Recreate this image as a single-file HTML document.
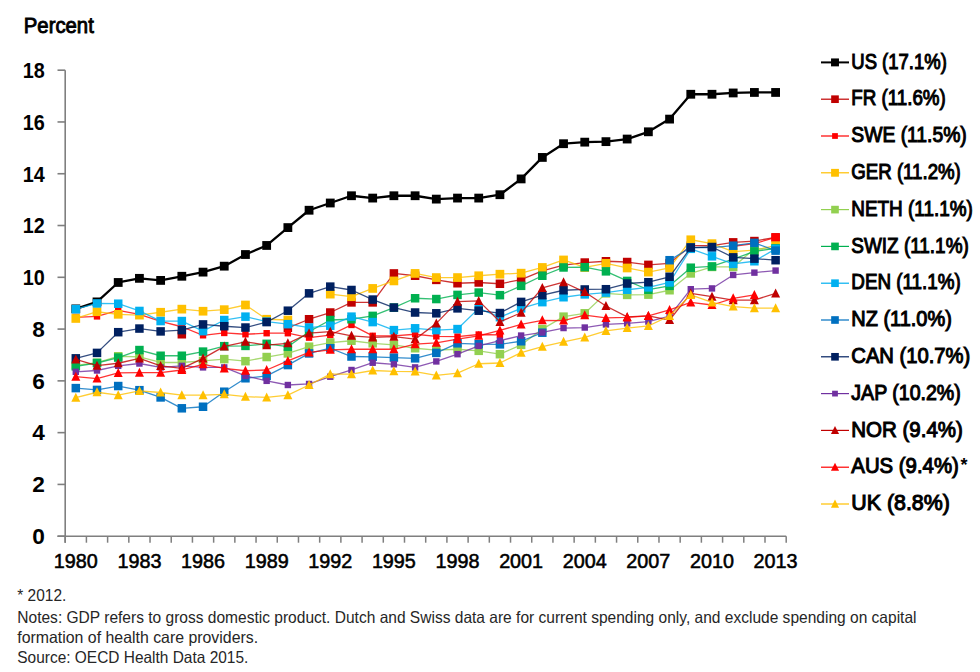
<!DOCTYPE html>
<html><head><meta charset="utf-8"><style>html,body{margin:0;padding:0;background:#fff;}svg{display:block;}text{font-family:"Liberation Sans", sans-serif;}</style></head><body>
<svg width="980" height="672" viewBox="0 0 980 672">
<rect width="980" height="672" fill="#fff"/>
<text x="23.8" y="33.3" font-size="21.5" font-weight="normal" stroke="#000" stroke-width="0.9" fill="#000" textLength="70.0" lengthAdjust="spacingAndGlyphs">Percent</text>
<line x1="65.2" y1="70.18" x2="65.2" y2="542.70" stroke="#7f7f7f" stroke-width="1.6"/>
<line x1="57.5" y1="536.2" x2="786.20" y2="536.2" stroke="#7f7f7f" stroke-width="1.6"/>
<line x1="57.5" y1="536.20" x2="65.2" y2="536.20" stroke="#7f7f7f" stroke-width="1.6"/>
<line x1="57.5" y1="484.42" x2="65.2" y2="484.42" stroke="#7f7f7f" stroke-width="1.6"/>
<line x1="57.5" y1="432.64" x2="65.2" y2="432.64" stroke="#7f7f7f" stroke-width="1.6"/>
<line x1="57.5" y1="380.86" x2="65.2" y2="380.86" stroke="#7f7f7f" stroke-width="1.6"/>
<line x1="57.5" y1="329.08" x2="65.2" y2="329.08" stroke="#7f7f7f" stroke-width="1.6"/>
<line x1="57.5" y1="277.30" x2="65.2" y2="277.30" stroke="#7f7f7f" stroke-width="1.6"/>
<line x1="57.5" y1="225.52" x2="65.2" y2="225.52" stroke="#7f7f7f" stroke-width="1.6"/>
<line x1="57.5" y1="173.74" x2="65.2" y2="173.74" stroke="#7f7f7f" stroke-width="1.6"/>
<line x1="57.5" y1="121.96" x2="65.2" y2="121.96" stroke="#7f7f7f" stroke-width="1.6"/>
<line x1="57.5" y1="70.18" x2="65.2" y2="70.18" stroke="#7f7f7f" stroke-width="1.6"/>
<line x1="65.20" y1="536.2" x2="65.20" y2="542.70" stroke="#7f7f7f" stroke-width="1.5"/>
<line x1="86.41" y1="536.2" x2="86.41" y2="542.70" stroke="#7f7f7f" stroke-width="1.5"/>
<line x1="107.61" y1="536.2" x2="107.61" y2="542.70" stroke="#7f7f7f" stroke-width="1.5"/>
<line x1="128.82" y1="536.2" x2="128.82" y2="542.70" stroke="#7f7f7f" stroke-width="1.5"/>
<line x1="150.02" y1="536.2" x2="150.02" y2="542.70" stroke="#7f7f7f" stroke-width="1.5"/>
<line x1="171.23" y1="536.2" x2="171.23" y2="542.70" stroke="#7f7f7f" stroke-width="1.5"/>
<line x1="192.44" y1="536.2" x2="192.44" y2="542.70" stroke="#7f7f7f" stroke-width="1.5"/>
<line x1="213.64" y1="536.2" x2="213.64" y2="542.70" stroke="#7f7f7f" stroke-width="1.5"/>
<line x1="234.85" y1="536.2" x2="234.85" y2="542.70" stroke="#7f7f7f" stroke-width="1.5"/>
<line x1="256.05" y1="536.2" x2="256.05" y2="542.70" stroke="#7f7f7f" stroke-width="1.5"/>
<line x1="277.26" y1="536.2" x2="277.26" y2="542.70" stroke="#7f7f7f" stroke-width="1.5"/>
<line x1="298.47" y1="536.2" x2="298.47" y2="542.70" stroke="#7f7f7f" stroke-width="1.5"/>
<line x1="319.67" y1="536.2" x2="319.67" y2="542.70" stroke="#7f7f7f" stroke-width="1.5"/>
<line x1="340.88" y1="536.2" x2="340.88" y2="542.70" stroke="#7f7f7f" stroke-width="1.5"/>
<line x1="362.08" y1="536.2" x2="362.08" y2="542.70" stroke="#7f7f7f" stroke-width="1.5"/>
<line x1="383.29" y1="536.2" x2="383.29" y2="542.70" stroke="#7f7f7f" stroke-width="1.5"/>
<line x1="404.50" y1="536.2" x2="404.50" y2="542.70" stroke="#7f7f7f" stroke-width="1.5"/>
<line x1="425.70" y1="536.2" x2="425.70" y2="542.70" stroke="#7f7f7f" stroke-width="1.5"/>
<line x1="446.91" y1="536.2" x2="446.91" y2="542.70" stroke="#7f7f7f" stroke-width="1.5"/>
<line x1="468.11" y1="536.2" x2="468.11" y2="542.70" stroke="#7f7f7f" stroke-width="1.5"/>
<line x1="489.32" y1="536.2" x2="489.32" y2="542.70" stroke="#7f7f7f" stroke-width="1.5"/>
<line x1="510.53" y1="536.2" x2="510.53" y2="542.70" stroke="#7f7f7f" stroke-width="1.5"/>
<line x1="531.73" y1="536.2" x2="531.73" y2="542.70" stroke="#7f7f7f" stroke-width="1.5"/>
<line x1="552.94" y1="536.2" x2="552.94" y2="542.70" stroke="#7f7f7f" stroke-width="1.5"/>
<line x1="574.14" y1="536.2" x2="574.14" y2="542.70" stroke="#7f7f7f" stroke-width="1.5"/>
<line x1="595.35" y1="536.2" x2="595.35" y2="542.70" stroke="#7f7f7f" stroke-width="1.5"/>
<line x1="616.56" y1="536.2" x2="616.56" y2="542.70" stroke="#7f7f7f" stroke-width="1.5"/>
<line x1="637.76" y1="536.2" x2="637.76" y2="542.70" stroke="#7f7f7f" stroke-width="1.5"/>
<line x1="658.97" y1="536.2" x2="658.97" y2="542.70" stroke="#7f7f7f" stroke-width="1.5"/>
<line x1="680.17" y1="536.2" x2="680.17" y2="542.70" stroke="#7f7f7f" stroke-width="1.5"/>
<line x1="701.38" y1="536.2" x2="701.38" y2="542.70" stroke="#7f7f7f" stroke-width="1.5"/>
<line x1="722.59" y1="536.2" x2="722.59" y2="542.70" stroke="#7f7f7f" stroke-width="1.5"/>
<line x1="743.79" y1="536.2" x2="743.79" y2="542.70" stroke="#7f7f7f" stroke-width="1.5"/>
<line x1="765.00" y1="536.2" x2="765.00" y2="542.70" stroke="#7f7f7f" stroke-width="1.5"/>
<line x1="786.20" y1="536.2" x2="786.20" y2="542.70" stroke="#7f7f7f" stroke-width="1.5"/>
<text x="44.8" y="544.00" font-size="21.5" font-weight="bold" text-anchor="end" fill="#000" textLength="12.6" lengthAdjust="spacingAndGlyphs">0</text>
<text x="44.8" y="492.22" font-size="21.5" font-weight="bold" text-anchor="end" fill="#000" textLength="12.6" lengthAdjust="spacingAndGlyphs">2</text>
<text x="44.8" y="440.44" font-size="21.5" font-weight="bold" text-anchor="end" fill="#000" textLength="12.6" lengthAdjust="spacingAndGlyphs">4</text>
<text x="44.8" y="388.66" font-size="21.5" font-weight="bold" text-anchor="end" fill="#000" textLength="12.6" lengthAdjust="spacingAndGlyphs">6</text>
<text x="44.8" y="336.88" font-size="21.5" font-weight="bold" text-anchor="end" fill="#000" textLength="12.6" lengthAdjust="spacingAndGlyphs">8</text>
<text x="44.8" y="285.10" font-size="21.5" font-weight="bold" text-anchor="end" fill="#000" textLength="22.0" lengthAdjust="spacingAndGlyphs">10</text>
<text x="44.8" y="233.32" font-size="21.5" font-weight="bold" text-anchor="end" fill="#000" textLength="22.0" lengthAdjust="spacingAndGlyphs">12</text>
<text x="44.8" y="181.54" font-size="21.5" font-weight="bold" text-anchor="end" fill="#000" textLength="22.0" lengthAdjust="spacingAndGlyphs">14</text>
<text x="44.8" y="129.76" font-size="21.5" font-weight="bold" text-anchor="end" fill="#000" textLength="22.0" lengthAdjust="spacingAndGlyphs">16</text>
<text x="44.8" y="77.98" font-size="21.5" font-weight="bold" text-anchor="end" fill="#000" textLength="22.0" lengthAdjust="spacingAndGlyphs">18</text>
<text x="75.80" y="567.7" font-size="20.5" font-weight="normal" stroke="#000" stroke-width="0.55" text-anchor="middle" fill="#000" textLength="44" lengthAdjust="spacingAndGlyphs">1980</text>
<text x="139.42" y="567.7" font-size="20.5" font-weight="normal" stroke="#000" stroke-width="0.55" text-anchor="middle" fill="#000" textLength="44" lengthAdjust="spacingAndGlyphs">1983</text>
<text x="203.04" y="567.7" font-size="20.5" font-weight="normal" stroke="#000" stroke-width="0.55" text-anchor="middle" fill="#000" textLength="44" lengthAdjust="spacingAndGlyphs">1986</text>
<text x="266.66" y="567.7" font-size="20.5" font-weight="normal" stroke="#000" stroke-width="0.55" text-anchor="middle" fill="#000" textLength="44" lengthAdjust="spacingAndGlyphs">1989</text>
<text x="330.27" y="567.7" font-size="20.5" font-weight="normal" stroke="#000" stroke-width="0.55" text-anchor="middle" fill="#000" textLength="44" lengthAdjust="spacingAndGlyphs">1992</text>
<text x="393.89" y="567.7" font-size="20.5" font-weight="normal" stroke="#000" stroke-width="0.55" text-anchor="middle" fill="#000" textLength="44" lengthAdjust="spacingAndGlyphs">1995</text>
<text x="457.51" y="567.7" font-size="20.5" font-weight="normal" stroke="#000" stroke-width="0.55" text-anchor="middle" fill="#000" textLength="44" lengthAdjust="spacingAndGlyphs">1998</text>
<text x="521.13" y="567.7" font-size="20.5" font-weight="normal" stroke="#000" stroke-width="0.55" text-anchor="middle" fill="#000" textLength="44" lengthAdjust="spacingAndGlyphs">2001</text>
<text x="584.75" y="567.7" font-size="20.5" font-weight="normal" stroke="#000" stroke-width="0.55" text-anchor="middle" fill="#000" textLength="44" lengthAdjust="spacingAndGlyphs">2004</text>
<text x="648.37" y="567.7" font-size="20.5" font-weight="normal" stroke="#000" stroke-width="0.55" text-anchor="middle" fill="#000" textLength="44" lengthAdjust="spacingAndGlyphs">2007</text>
<text x="711.98" y="567.7" font-size="20.5" font-weight="normal" stroke="#000" stroke-width="0.55" text-anchor="middle" fill="#000" textLength="44" lengthAdjust="spacingAndGlyphs">2010</text>
<text x="775.60" y="567.7" font-size="20.5" font-weight="normal" stroke="#000" stroke-width="0.55" text-anchor="middle" fill="#000" textLength="44" lengthAdjust="spacingAndGlyphs">2013</text>
<path d="M75.80 308.89 L97.01 301.90 L118.22 282.48 L139.42 278.34 L160.63 280.41 L181.83 276.26 L203.04 272.12 L224.25 266.17 L245.45 254.52 L266.66 245.46 L287.86 227.59 L309.07 210.24 L330.27 203.00 L351.48 195.75 L372.69 198.08 L393.89 195.75 L415.10 195.75 L436.31 199.11 L457.51 198.08 L478.72 198.08 L499.92 194.71 L521.13 178.92 L542.34 157.43 L563.54 143.71 L584.75 142.15 L605.95 141.64 L627.16 139.05 L648.37 131.80 L669.57 119.11 L690.78 94.26 L711.98 94.26 L733.19 92.96 L754.39 92.45 L775.60 92.45" fill="none" stroke="#000000" stroke-width="2.3" stroke-opacity="1.0" stroke-linejoin="round"/>
<rect x="71.40" y="304.49" width="8.80" height="8.80" fill="#000000"/>
<rect x="92.61" y="297.50" width="8.80" height="8.80" fill="#000000"/>
<rect x="113.81" y="278.08" width="8.80" height="8.80" fill="#000000"/>
<rect x="135.02" y="273.94" width="8.80" height="8.80" fill="#000000"/>
<rect x="156.23" y="276.01" width="8.80" height="8.80" fill="#000000"/>
<rect x="177.43" y="271.86" width="8.80" height="8.80" fill="#000000"/>
<rect x="198.64" y="267.72" width="8.80" height="8.80" fill="#000000"/>
<rect x="219.84" y="261.77" width="8.80" height="8.80" fill="#000000"/>
<rect x="241.05" y="250.12" width="8.80" height="8.80" fill="#000000"/>
<rect x="262.26" y="241.06" width="8.80" height="8.80" fill="#000000"/>
<rect x="283.46" y="223.19" width="8.80" height="8.80" fill="#000000"/>
<rect x="304.67" y="205.84" width="8.80" height="8.80" fill="#000000"/>
<rect x="325.88" y="198.60" width="8.80" height="8.80" fill="#000000"/>
<rect x="347.08" y="191.35" width="8.80" height="8.80" fill="#000000"/>
<rect x="368.29" y="193.68" width="8.80" height="8.80" fill="#000000"/>
<rect x="389.49" y="191.35" width="8.80" height="8.80" fill="#000000"/>
<rect x="410.70" y="191.35" width="8.80" height="8.80" fill="#000000"/>
<rect x="431.91" y="194.71" width="8.80" height="8.80" fill="#000000"/>
<rect x="453.11" y="193.68" width="8.80" height="8.80" fill="#000000"/>
<rect x="474.32" y="193.68" width="8.80" height="8.80" fill="#000000"/>
<rect x="495.52" y="190.31" width="8.80" height="8.80" fill="#000000"/>
<rect x="516.73" y="174.52" width="8.80" height="8.80" fill="#000000"/>
<rect x="537.94" y="153.03" width="8.80" height="8.80" fill="#000000"/>
<rect x="559.14" y="139.31" width="8.80" height="8.80" fill="#000000"/>
<rect x="580.35" y="137.75" width="8.80" height="8.80" fill="#000000"/>
<rect x="601.55" y="137.24" width="8.80" height="8.80" fill="#000000"/>
<rect x="622.76" y="134.65" width="8.80" height="8.80" fill="#000000"/>
<rect x="643.97" y="127.40" width="8.80" height="8.80" fill="#000000"/>
<rect x="665.17" y="114.71" width="8.80" height="8.80" fill="#000000"/>
<rect x="686.38" y="89.86" width="8.80" height="8.80" fill="#000000"/>
<rect x="707.58" y="89.86" width="8.80" height="8.80" fill="#000000"/>
<rect x="728.79" y="88.56" width="8.80" height="8.80" fill="#000000"/>
<rect x="750.00" y="88.05" width="8.80" height="8.80" fill="#000000"/>
<rect x="771.20" y="88.05" width="8.80" height="8.80" fill="#000000"/>
<path d="M287.86 327.79 L309.07 319.24 L330.27 312.51 L351.48 302.41 L372.69 302.41 L393.89 273.42 L415.10 275.75 L436.31 279.89 L457.51 283.25 L478.72 282.48 L499.92 283.77 L521.13 279.63 L542.34 270.83 L563.54 265.13 L584.75 262.54 L605.95 261.25 L627.16 262.02 L648.37 264.87 L669.57 263.32 L690.78 245.71 L711.98 245.71 L733.19 242.35 L754.39 241.05 L775.60 237.43" fill="none" stroke="#C00000" stroke-width="1.3" stroke-opacity="0.8" stroke-linejoin="round"/>
<rect x="177.58" y="330.01" width="8.50" height="8.50" fill="#C00000"/>
<rect x="283.61" y="323.54" width="8.50" height="8.50" fill="#C00000"/>
<rect x="304.82" y="314.99" width="8.50" height="8.50" fill="#C00000"/>
<rect x="326.02" y="308.26" width="8.50" height="8.50" fill="#C00000"/>
<rect x="347.23" y="298.16" width="8.50" height="8.50" fill="#C00000"/>
<rect x="368.44" y="298.16" width="8.50" height="8.50" fill="#C00000"/>
<rect x="389.64" y="269.17" width="8.50" height="8.50" fill="#C00000"/>
<rect x="410.85" y="271.50" width="8.50" height="8.50" fill="#C00000"/>
<rect x="432.06" y="275.64" width="8.50" height="8.50" fill="#C00000"/>
<rect x="453.26" y="279.00" width="8.50" height="8.50" fill="#C00000"/>
<rect x="474.47" y="278.23" width="8.50" height="8.50" fill="#C00000"/>
<rect x="495.67" y="279.52" width="8.50" height="8.50" fill="#C00000"/>
<rect x="516.88" y="275.38" width="8.50" height="8.50" fill="#C00000"/>
<rect x="538.09" y="266.58" width="8.50" height="8.50" fill="#C00000"/>
<rect x="559.29" y="260.88" width="8.50" height="8.50" fill="#C00000"/>
<rect x="580.50" y="258.29" width="8.50" height="8.50" fill="#C00000"/>
<rect x="601.70" y="257.00" width="8.50" height="8.50" fill="#C00000"/>
<rect x="622.91" y="257.77" width="8.50" height="8.50" fill="#C00000"/>
<rect x="644.12" y="260.62" width="8.50" height="8.50" fill="#C00000"/>
<rect x="665.32" y="259.07" width="8.50" height="8.50" fill="#C00000"/>
<rect x="686.53" y="241.46" width="8.50" height="8.50" fill="#C00000"/>
<rect x="707.73" y="241.46" width="8.50" height="8.50" fill="#C00000"/>
<rect x="728.94" y="238.10" width="8.50" height="8.50" fill="#C00000"/>
<rect x="750.14" y="236.80" width="8.50" height="8.50" fill="#C00000"/>
<rect x="771.35" y="233.18" width="8.50" height="8.50" fill="#C00000"/>
<path d="M75.80 317.43 L97.01 316.39 L118.22 310.44 L139.42 314.32 L160.63 321.31 L181.83 326.75 L203.04 335.29 L224.25 332.96 L245.45 334.26 L266.66 333.22 L287.86 333.22 L309.07 337.62 L330.27 335.03 L351.48 324.94 L372.69 335.81 L393.89 335.81 L415.10 334.26 L436.31 336.33 L457.51 336.59 L478.72 334.52 L499.92 334.78" fill="none" stroke="#FF0000" stroke-width="1.3" stroke-opacity="0.8" stroke-linejoin="round"/>
<path d="M733.19 246.23 L754.39 243.64 L775.60 237.43" fill="none" stroke="#FF0000" stroke-width="1.3" stroke-opacity="0.8" stroke-linejoin="round"/>
<rect x="72.60" y="314.23" width="6.40" height="6.40" fill="#FF0000"/>
<rect x="93.81" y="313.19" width="6.40" height="6.40" fill="#FF0000"/>
<rect x="115.02" y="307.24" width="6.40" height="6.40" fill="#FF0000"/>
<rect x="136.22" y="311.12" width="6.40" height="6.40" fill="#FF0000"/>
<rect x="157.43" y="318.11" width="6.40" height="6.40" fill="#FF0000"/>
<rect x="178.63" y="323.55" width="6.40" height="6.40" fill="#FF0000"/>
<rect x="199.84" y="332.09" width="6.40" height="6.40" fill="#FF0000"/>
<rect x="221.05" y="329.76" width="6.40" height="6.40" fill="#FF0000"/>
<rect x="242.25" y="331.06" width="6.40" height="6.40" fill="#FF0000"/>
<rect x="263.46" y="330.02" width="6.40" height="6.40" fill="#FF0000"/>
<rect x="284.66" y="330.02" width="6.40" height="6.40" fill="#FF0000"/>
<rect x="305.87" y="334.42" width="6.40" height="6.40" fill="#FF0000"/>
<rect x="327.07" y="331.83" width="6.40" height="6.40" fill="#FF0000"/>
<rect x="348.28" y="321.74" width="6.40" height="6.40" fill="#FF0000"/>
<rect x="369.49" y="332.61" width="6.40" height="6.40" fill="#FF0000"/>
<rect x="390.69" y="332.61" width="6.40" height="6.40" fill="#FF0000"/>
<rect x="411.90" y="331.06" width="6.40" height="6.40" fill="#FF0000"/>
<rect x="433.11" y="333.13" width="6.40" height="6.40" fill="#FF0000"/>
<rect x="454.31" y="333.39" width="6.40" height="6.40" fill="#FF0000"/>
<rect x="475.52" y="331.32" width="6.40" height="6.40" fill="#FF0000"/>
<rect x="496.72" y="331.58" width="6.40" height="6.40" fill="#FF0000"/>
<rect x="729.99" y="243.03" width="6.40" height="6.40" fill="#FF0000"/>
<rect x="751.19" y="240.44" width="6.40" height="6.40" fill="#FF0000"/>
<rect x="771.40" y="233.23" width="8.40" height="8.40" fill="#FF0000"/>
<path d="M75.80 318.47 L97.01 311.73 L118.22 314.32 L139.42 315.10 L160.63 312.25 L181.83 309.14 L203.04 311.22 L224.25 309.66 L245.45 305.00 L266.66 319.24 L287.86 320.02" fill="none" stroke="#FFC000" stroke-width="1.3" stroke-opacity="0.8" stroke-linejoin="round"/>
<path d="M330.27 294.13 L351.48 296.72 L372.69 288.43 L393.89 280.92 L415.10 273.42 L436.31 277.56 L457.51 277.56 L478.72 275.75 L499.92 274.19 L521.13 273.16 L542.34 267.46 L563.54 259.95 L584.75 267.46 L605.95 263.32 L627.16 267.98 L648.37 272.12 L669.57 267.98 L690.78 239.76 L711.98 243.64 L733.19 251.67 L754.39 250.12 L775.60 245.71" fill="none" stroke="#FFC000" stroke-width="1.3" stroke-opacity="0.8" stroke-linejoin="round"/>
<rect x="71.45" y="314.12" width="8.70" height="8.70" fill="#FFC000"/>
<rect x="92.66" y="307.38" width="8.70" height="8.70" fill="#FFC000"/>
<rect x="113.87" y="309.97" width="8.70" height="8.70" fill="#FFC000"/>
<rect x="135.07" y="310.75" width="8.70" height="8.70" fill="#FFC000"/>
<rect x="156.28" y="307.90" width="8.70" height="8.70" fill="#FFC000"/>
<rect x="177.48" y="304.79" width="8.70" height="8.70" fill="#FFC000"/>
<rect x="198.69" y="306.87" width="8.70" height="8.70" fill="#FFC000"/>
<rect x="219.90" y="305.31" width="8.70" height="8.70" fill="#FFC000"/>
<rect x="241.10" y="300.65" width="8.70" height="8.70" fill="#FFC000"/>
<rect x="262.31" y="314.89" width="8.70" height="8.70" fill="#FFC000"/>
<rect x="283.51" y="315.67" width="8.70" height="8.70" fill="#FFC000"/>
<rect x="325.92" y="289.78" width="8.70" height="8.70" fill="#FFC000"/>
<rect x="347.13" y="292.37" width="8.70" height="8.70" fill="#FFC000"/>
<rect x="368.34" y="284.08" width="8.70" height="8.70" fill="#FFC000"/>
<rect x="389.54" y="276.57" width="8.70" height="8.70" fill="#FFC000"/>
<rect x="410.75" y="269.07" width="8.70" height="8.70" fill="#FFC000"/>
<rect x="431.95" y="273.21" width="8.70" height="8.70" fill="#FFC000"/>
<rect x="453.16" y="273.21" width="8.70" height="8.70" fill="#FFC000"/>
<rect x="474.37" y="271.40" width="8.70" height="8.70" fill="#FFC000"/>
<rect x="495.57" y="269.84" width="8.70" height="8.70" fill="#FFC000"/>
<rect x="516.78" y="268.81" width="8.70" height="8.70" fill="#FFC000"/>
<rect x="537.99" y="263.11" width="8.70" height="8.70" fill="#FFC000"/>
<rect x="559.19" y="255.60" width="8.70" height="8.70" fill="#FFC000"/>
<rect x="580.40" y="263.11" width="8.70" height="8.70" fill="#FFC000"/>
<rect x="601.60" y="258.97" width="8.70" height="8.70" fill="#FFC000"/>
<rect x="622.81" y="263.63" width="8.70" height="8.70" fill="#FFC000"/>
<rect x="644.01" y="267.77" width="8.70" height="8.70" fill="#FFC000"/>
<rect x="665.22" y="263.63" width="8.70" height="8.70" fill="#FFC000"/>
<rect x="686.43" y="235.41" width="8.70" height="8.70" fill="#FFC000"/>
<rect x="707.63" y="239.29" width="8.70" height="8.70" fill="#FFC000"/>
<rect x="728.84" y="247.32" width="8.70" height="8.70" fill="#FFC000"/>
<rect x="750.04" y="245.77" width="8.70" height="8.70" fill="#FFC000"/>
<rect x="771.25" y="241.36" width="8.70" height="8.70" fill="#FFC000"/>
<path d="M75.80 365.33 L97.01 362.74 L118.22 356.26 L139.42 356.78 L160.63 362.48 L181.83 362.48 L203.04 360.92 L224.25 359.11 L245.45 361.18 L266.66 357.04 L287.86 353.42 L309.07 346.69 L330.27 342.54 L351.48 340.73 L372.69 343.32 L393.89 344.87 L415.10 348.24 L436.31 350.05 L457.51 349.27 L478.72 350.83 L499.92 354.19 L521.13 344.87 L542.34 329.08 L563.54 316.65 L584.75 313.29 L605.95 293.35 L627.16 294.91 L648.37 294.65 L669.57 290.25 L690.78 273.42 L711.98 266.94 L733.19 266.94 L754.39 248.82 L775.60 248.82" fill="none" stroke="#92D050" stroke-width="1.3" stroke-opacity="0.8" stroke-linejoin="round"/>
<rect x="71.55" y="361.08" width="8.50" height="8.50" fill="#92D050"/>
<rect x="92.76" y="358.49" width="8.50" height="8.50" fill="#92D050"/>
<rect x="113.97" y="352.01" width="8.50" height="8.50" fill="#92D050"/>
<rect x="135.17" y="352.53" width="8.50" height="8.50" fill="#92D050"/>
<rect x="156.38" y="358.23" width="8.50" height="8.50" fill="#92D050"/>
<rect x="177.58" y="358.23" width="8.50" height="8.50" fill="#92D050"/>
<rect x="198.79" y="356.67" width="8.50" height="8.50" fill="#92D050"/>
<rect x="220.00" y="354.86" width="8.50" height="8.50" fill="#92D050"/>
<rect x="241.20" y="356.93" width="8.50" height="8.50" fill="#92D050"/>
<rect x="262.41" y="352.79" width="8.50" height="8.50" fill="#92D050"/>
<rect x="283.61" y="349.17" width="8.50" height="8.50" fill="#92D050"/>
<rect x="304.82" y="342.44" width="8.50" height="8.50" fill="#92D050"/>
<rect x="326.02" y="338.29" width="8.50" height="8.50" fill="#92D050"/>
<rect x="347.23" y="336.48" width="8.50" height="8.50" fill="#92D050"/>
<rect x="368.44" y="339.07" width="8.50" height="8.50" fill="#92D050"/>
<rect x="389.64" y="340.62" width="8.50" height="8.50" fill="#92D050"/>
<rect x="410.85" y="343.99" width="8.50" height="8.50" fill="#92D050"/>
<rect x="432.06" y="345.80" width="8.50" height="8.50" fill="#92D050"/>
<rect x="453.26" y="345.02" width="8.50" height="8.50" fill="#92D050"/>
<rect x="474.47" y="346.58" width="8.50" height="8.50" fill="#92D050"/>
<rect x="495.67" y="349.94" width="8.50" height="8.50" fill="#92D050"/>
<rect x="516.88" y="340.62" width="8.50" height="8.50" fill="#92D050"/>
<rect x="538.09" y="324.83" width="8.50" height="8.50" fill="#92D050"/>
<rect x="559.29" y="312.40" width="8.50" height="8.50" fill="#92D050"/>
<rect x="580.50" y="309.04" width="8.50" height="8.50" fill="#92D050"/>
<rect x="601.70" y="289.10" width="8.50" height="8.50" fill="#92D050"/>
<rect x="622.91" y="290.66" width="8.50" height="8.50" fill="#92D050"/>
<rect x="644.12" y="290.40" width="8.50" height="8.50" fill="#92D050"/>
<rect x="665.32" y="286.00" width="8.50" height="8.50" fill="#92D050"/>
<rect x="686.53" y="269.17" width="8.50" height="8.50" fill="#92D050"/>
<rect x="707.73" y="262.69" width="8.50" height="8.50" fill="#92D050"/>
<rect x="728.94" y="262.69" width="8.50" height="8.50" fill="#92D050"/>
<rect x="750.14" y="244.57" width="8.50" height="8.50" fill="#92D050"/>
<rect x="771.35" y="244.57" width="8.50" height="8.50" fill="#92D050"/>
<path d="M75.80 366.36 L97.01 363.00 L118.22 357.56 L139.42 350.05 L160.63 355.75 L181.83 355.75 L203.04 351.60 L224.25 346.17 L245.45 345.91 L266.66 343.84 L287.86 346.69 L309.07 331.67 L330.27 320.02 L351.48 319.24 L372.69 315.88 L393.89 307.59 L415.10 298.27 L436.31 299.05 L457.51 294.91 L478.72 292.58 L499.92 295.16 L521.13 285.84 L542.34 275.75 L563.54 267.46 L584.75 267.20 L605.95 271.35 L627.16 280.92 L648.37 289.73 L669.57 285.84 L690.78 267.72 L711.98 266.43 L733.19 259.18 L754.39 251.41 L775.60 248.30" fill="none" stroke="#00B050" stroke-width="1.3" stroke-opacity="0.8" stroke-linejoin="round"/>
<rect x="71.55" y="362.11" width="8.50" height="8.50" fill="#00B050"/>
<rect x="92.76" y="358.75" width="8.50" height="8.50" fill="#00B050"/>
<rect x="113.97" y="353.31" width="8.50" height="8.50" fill="#00B050"/>
<rect x="135.17" y="345.80" width="8.50" height="8.50" fill="#00B050"/>
<rect x="156.38" y="351.50" width="8.50" height="8.50" fill="#00B050"/>
<rect x="177.58" y="351.50" width="8.50" height="8.50" fill="#00B050"/>
<rect x="198.79" y="347.35" width="8.50" height="8.50" fill="#00B050"/>
<rect x="220.00" y="341.92" width="8.50" height="8.50" fill="#00B050"/>
<rect x="241.20" y="341.66" width="8.50" height="8.50" fill="#00B050"/>
<rect x="262.41" y="339.59" width="8.50" height="8.50" fill="#00B050"/>
<rect x="283.61" y="342.44" width="8.50" height="8.50" fill="#00B050"/>
<rect x="304.82" y="327.42" width="8.50" height="8.50" fill="#00B050"/>
<rect x="326.02" y="315.77" width="8.50" height="8.50" fill="#00B050"/>
<rect x="347.23" y="314.99" width="8.50" height="8.50" fill="#00B050"/>
<rect x="368.44" y="311.63" width="8.50" height="8.50" fill="#00B050"/>
<rect x="389.64" y="303.34" width="8.50" height="8.50" fill="#00B050"/>
<rect x="410.85" y="294.02" width="8.50" height="8.50" fill="#00B050"/>
<rect x="432.06" y="294.80" width="8.50" height="8.50" fill="#00B050"/>
<rect x="453.26" y="290.66" width="8.50" height="8.50" fill="#00B050"/>
<rect x="474.47" y="288.33" width="8.50" height="8.50" fill="#00B050"/>
<rect x="495.67" y="290.91" width="8.50" height="8.50" fill="#00B050"/>
<rect x="516.88" y="281.59" width="8.50" height="8.50" fill="#00B050"/>
<rect x="538.09" y="271.50" width="8.50" height="8.50" fill="#00B050"/>
<rect x="559.29" y="263.21" width="8.50" height="8.50" fill="#00B050"/>
<rect x="580.50" y="262.95" width="8.50" height="8.50" fill="#00B050"/>
<rect x="601.70" y="267.10" width="8.50" height="8.50" fill="#00B050"/>
<rect x="622.91" y="276.67" width="8.50" height="8.50" fill="#00B050"/>
<rect x="644.12" y="285.48" width="8.50" height="8.50" fill="#00B050"/>
<rect x="665.32" y="281.59" width="8.50" height="8.50" fill="#00B050"/>
<rect x="686.53" y="263.47" width="8.50" height="8.50" fill="#00B050"/>
<rect x="707.73" y="262.18" width="8.50" height="8.50" fill="#00B050"/>
<rect x="728.94" y="254.93" width="8.50" height="8.50" fill="#00B050"/>
<rect x="750.14" y="247.16" width="8.50" height="8.50" fill="#00B050"/>
<rect x="771.35" y="244.05" width="8.50" height="8.50" fill="#00B050"/>
<path d="M75.80 309.14 L97.01 303.45 L118.22 303.71 L139.42 310.96 L160.63 321.05 L181.83 321.05 L203.04 331.15 L224.25 320.02 L245.45 316.65 L266.66 321.57 L287.86 324.16 L309.07 327.53 L330.27 325.71 L351.48 316.65 L372.69 322.09 L393.89 330.12 L415.10 328.30 L436.31 330.12 L457.51 329.08 L478.72 308.37 L499.92 317.17 L521.13 308.37 L542.34 302.15 L563.54 297.24 L584.75 294.39 L605.95 292.58 L627.16 289.73 L648.37 287.40 L669.57 282.48 L690.78 248.82 L711.98 256.33 L733.19 263.84 L754.39 261.25 L775.60 248.82" fill="none" stroke="#00B0F0" stroke-width="1.3" stroke-opacity="0.8" stroke-linejoin="round"/>
<rect x="71.55" y="304.89" width="8.50" height="8.50" fill="#00B0F0"/>
<rect x="92.76" y="299.20" width="8.50" height="8.50" fill="#00B0F0"/>
<rect x="113.97" y="299.46" width="8.50" height="8.50" fill="#00B0F0"/>
<rect x="135.17" y="306.71" width="8.50" height="8.50" fill="#00B0F0"/>
<rect x="156.38" y="316.80" width="8.50" height="8.50" fill="#00B0F0"/>
<rect x="177.58" y="316.80" width="8.50" height="8.50" fill="#00B0F0"/>
<rect x="198.79" y="326.90" width="8.50" height="8.50" fill="#00B0F0"/>
<rect x="220.00" y="315.77" width="8.50" height="8.50" fill="#00B0F0"/>
<rect x="241.20" y="312.40" width="8.50" height="8.50" fill="#00B0F0"/>
<rect x="262.41" y="317.32" width="8.50" height="8.50" fill="#00B0F0"/>
<rect x="283.61" y="319.91" width="8.50" height="8.50" fill="#00B0F0"/>
<rect x="304.82" y="323.28" width="8.50" height="8.50" fill="#00B0F0"/>
<rect x="326.02" y="321.46" width="8.50" height="8.50" fill="#00B0F0"/>
<rect x="347.23" y="312.40" width="8.50" height="8.50" fill="#00B0F0"/>
<rect x="368.44" y="317.84" width="8.50" height="8.50" fill="#00B0F0"/>
<rect x="389.64" y="325.87" width="8.50" height="8.50" fill="#00B0F0"/>
<rect x="410.85" y="324.05" width="8.50" height="8.50" fill="#00B0F0"/>
<rect x="432.06" y="325.87" width="8.50" height="8.50" fill="#00B0F0"/>
<rect x="453.26" y="324.83" width="8.50" height="8.50" fill="#00B0F0"/>
<rect x="474.47" y="304.12" width="8.50" height="8.50" fill="#00B0F0"/>
<rect x="495.67" y="312.92" width="8.50" height="8.50" fill="#00B0F0"/>
<rect x="516.88" y="304.12" width="8.50" height="8.50" fill="#00B0F0"/>
<rect x="538.09" y="297.90" width="8.50" height="8.50" fill="#00B0F0"/>
<rect x="559.29" y="292.99" width="8.50" height="8.50" fill="#00B0F0"/>
<rect x="580.50" y="290.14" width="8.50" height="8.50" fill="#00B0F0"/>
<rect x="601.70" y="288.33" width="8.50" height="8.50" fill="#00B0F0"/>
<rect x="622.91" y="285.48" width="8.50" height="8.50" fill="#00B0F0"/>
<rect x="644.12" y="283.15" width="8.50" height="8.50" fill="#00B0F0"/>
<rect x="665.32" y="278.23" width="8.50" height="8.50" fill="#00B0F0"/>
<rect x="686.53" y="244.57" width="8.50" height="8.50" fill="#00B0F0"/>
<rect x="707.73" y="252.08" width="8.50" height="8.50" fill="#00B0F0"/>
<rect x="728.94" y="259.59" width="8.50" height="8.50" fill="#00B0F0"/>
<rect x="750.14" y="257.00" width="8.50" height="8.50" fill="#00B0F0"/>
<rect x="771.35" y="244.57" width="8.50" height="8.50" fill="#00B0F0"/>
<path d="M75.80 388.11 L97.01 389.92 L118.22 386.04 L139.42 390.18 L160.63 397.43 L181.83 408.30 L203.04 406.75 L224.25 391.73 L245.45 378.27 L266.66 375.94 L287.86 365.07 L309.07 353.42 L330.27 348.24 L351.48 356.52 L372.69 356.78 L393.89 357.56 L415.10 358.34 L436.31 352.90 L457.51 343.32 L478.72 344.10 L499.92 344.36 L521.13 341.25 L542.34 332.70" fill="none" stroke="#0070C0" stroke-width="1.3" stroke-opacity="0.8" stroke-linejoin="round"/>
<path d="M669.57 260.21 L690.78 247.53 L711.98 247.53 L733.19 245.71 L754.39 242.87 L775.60 250.63" fill="none" stroke="#0070C0" stroke-width="1.3" stroke-opacity="0.8" stroke-linejoin="round"/>
<rect x="71.55" y="383.86" width="8.50" height="8.50" fill="#0070C0"/>
<rect x="92.76" y="385.67" width="8.50" height="8.50" fill="#0070C0"/>
<rect x="113.97" y="381.79" width="8.50" height="8.50" fill="#0070C0"/>
<rect x="135.17" y="385.93" width="8.50" height="8.50" fill="#0070C0"/>
<rect x="156.38" y="393.18" width="8.50" height="8.50" fill="#0070C0"/>
<rect x="177.58" y="404.05" width="8.50" height="8.50" fill="#0070C0"/>
<rect x="198.79" y="402.50" width="8.50" height="8.50" fill="#0070C0"/>
<rect x="220.00" y="387.48" width="8.50" height="8.50" fill="#0070C0"/>
<rect x="241.20" y="374.02" width="8.50" height="8.50" fill="#0070C0"/>
<rect x="262.41" y="371.69" width="8.50" height="8.50" fill="#0070C0"/>
<rect x="283.61" y="360.82" width="8.50" height="8.50" fill="#0070C0"/>
<rect x="304.82" y="349.17" width="8.50" height="8.50" fill="#0070C0"/>
<rect x="326.02" y="343.99" width="8.50" height="8.50" fill="#0070C0"/>
<rect x="347.23" y="352.27" width="8.50" height="8.50" fill="#0070C0"/>
<rect x="368.44" y="352.53" width="8.50" height="8.50" fill="#0070C0"/>
<rect x="389.64" y="353.31" width="8.50" height="8.50" fill="#0070C0"/>
<rect x="410.85" y="354.09" width="8.50" height="8.50" fill="#0070C0"/>
<rect x="432.06" y="348.65" width="8.50" height="8.50" fill="#0070C0"/>
<rect x="453.26" y="339.07" width="8.50" height="8.50" fill="#0070C0"/>
<rect x="474.47" y="339.85" width="8.50" height="8.50" fill="#0070C0"/>
<rect x="495.67" y="340.11" width="8.50" height="8.50" fill="#0070C0"/>
<rect x="516.88" y="337.00" width="8.50" height="8.50" fill="#0070C0"/>
<rect x="538.09" y="328.45" width="8.50" height="8.50" fill="#0070C0"/>
<rect x="665.32" y="255.96" width="8.50" height="8.50" fill="#0070C0"/>
<rect x="686.53" y="243.28" width="8.50" height="8.50" fill="#0070C0"/>
<rect x="707.73" y="243.28" width="8.50" height="8.50" fill="#0070C0"/>
<rect x="728.94" y="241.46" width="8.50" height="8.50" fill="#0070C0"/>
<rect x="750.14" y="238.62" width="8.50" height="8.50" fill="#0070C0"/>
<rect x="771.35" y="246.38" width="8.50" height="8.50" fill="#0070C0"/>
<path d="M75.80 358.34 L97.01 352.90 L118.22 332.19 L139.42 328.56 L160.63 331.41 L181.83 330.12 L203.04 324.42 L224.25 326.23 L245.45 327.53 L266.66 322.09 L287.86 310.70 L309.07 293.35 L330.27 286.62 L351.48 289.99 L372.69 299.57 L393.89 307.59 L415.10 312.51 L436.31 313.29 L457.51 308.37 L478.72 310.70 L499.92 313.03 L521.13 301.90 L542.34 295.16 L563.54 290.25 L584.75 289.47 L605.95 289.21 L627.16 283.51 L648.37 282.22 L669.57 276.78 L690.78 247.53 L711.98 247.01 L733.19 257.36 L754.39 258.66 L775.60 260.21" fill="none" stroke="#002060" stroke-width="1.3" stroke-opacity="0.8" stroke-linejoin="round"/>
<rect x="71.55" y="354.09" width="8.50" height="8.50" fill="#002060"/>
<rect x="92.76" y="348.65" width="8.50" height="8.50" fill="#002060"/>
<rect x="113.97" y="327.94" width="8.50" height="8.50" fill="#002060"/>
<rect x="135.17" y="324.31" width="8.50" height="8.50" fill="#002060"/>
<rect x="156.38" y="327.16" width="8.50" height="8.50" fill="#002060"/>
<rect x="177.58" y="325.87" width="8.50" height="8.50" fill="#002060"/>
<rect x="198.79" y="320.17" width="8.50" height="8.50" fill="#002060"/>
<rect x="220.00" y="321.98" width="8.50" height="8.50" fill="#002060"/>
<rect x="241.20" y="323.28" width="8.50" height="8.50" fill="#002060"/>
<rect x="262.41" y="317.84" width="8.50" height="8.50" fill="#002060"/>
<rect x="283.61" y="306.45" width="8.50" height="8.50" fill="#002060"/>
<rect x="304.82" y="289.10" width="8.50" height="8.50" fill="#002060"/>
<rect x="326.02" y="282.37" width="8.50" height="8.50" fill="#002060"/>
<rect x="347.23" y="285.74" width="8.50" height="8.50" fill="#002060"/>
<rect x="368.44" y="295.32" width="8.50" height="8.50" fill="#002060"/>
<rect x="389.64" y="303.34" width="8.50" height="8.50" fill="#002060"/>
<rect x="410.85" y="308.26" width="8.50" height="8.50" fill="#002060"/>
<rect x="432.06" y="309.04" width="8.50" height="8.50" fill="#002060"/>
<rect x="453.26" y="304.12" width="8.50" height="8.50" fill="#002060"/>
<rect x="474.47" y="306.45" width="8.50" height="8.50" fill="#002060"/>
<rect x="495.67" y="308.78" width="8.50" height="8.50" fill="#002060"/>
<rect x="516.88" y="297.65" width="8.50" height="8.50" fill="#002060"/>
<rect x="538.09" y="290.91" width="8.50" height="8.50" fill="#002060"/>
<rect x="559.29" y="286.00" width="8.50" height="8.50" fill="#002060"/>
<rect x="580.50" y="285.22" width="8.50" height="8.50" fill="#002060"/>
<rect x="601.70" y="284.96" width="8.50" height="8.50" fill="#002060"/>
<rect x="622.91" y="279.26" width="8.50" height="8.50" fill="#002060"/>
<rect x="644.12" y="277.97" width="8.50" height="8.50" fill="#002060"/>
<rect x="665.32" y="272.53" width="8.50" height="8.50" fill="#002060"/>
<rect x="686.53" y="243.28" width="8.50" height="8.50" fill="#002060"/>
<rect x="707.73" y="242.76" width="8.50" height="8.50" fill="#002060"/>
<rect x="728.94" y="253.11" width="8.50" height="8.50" fill="#002060"/>
<rect x="750.14" y="254.41" width="8.50" height="8.50" fill="#002060"/>
<rect x="771.35" y="255.96" width="8.50" height="8.50" fill="#002060"/>
<path d="M75.80 371.80 L97.01 370.50 L118.22 365.84 L139.42 363.51 L160.63 367.40 L181.83 365.84 L203.04 367.40 L224.25 367.40 L245.45 375.94 L266.66 380.86 L287.86 385.00 L309.07 383.97 L330.27 376.72 L351.48 369.99 L372.69 362.74 L393.89 364.29 L415.10 367.40 L436.31 361.44 L457.51 354.19 L478.72 345.91 L499.92 340.73 L521.13 335.55 L542.34 332.45 L563.54 328.04 L584.75 327.53 L605.95 324.42 L627.16 323.38 L648.37 321.57 L669.57 316.14 L690.78 289.21 L711.98 288.43 L733.19 274.97 L754.39 272.64 L775.60 270.57" fill="none" stroke="#7030A0" stroke-width="1.3" stroke-opacity="0.8" stroke-linejoin="round"/>
<rect x="72.60" y="368.60" width="6.40" height="6.40" fill="#7030A0"/>
<rect x="93.81" y="367.30" width="6.40" height="6.40" fill="#7030A0"/>
<rect x="115.02" y="362.64" width="6.40" height="6.40" fill="#7030A0"/>
<rect x="136.22" y="360.31" width="6.40" height="6.40" fill="#7030A0"/>
<rect x="157.43" y="364.20" width="6.40" height="6.40" fill="#7030A0"/>
<rect x="178.63" y="362.64" width="6.40" height="6.40" fill="#7030A0"/>
<rect x="199.84" y="364.20" width="6.40" height="6.40" fill="#7030A0"/>
<rect x="221.05" y="364.20" width="6.40" height="6.40" fill="#7030A0"/>
<rect x="242.25" y="372.74" width="6.40" height="6.40" fill="#7030A0"/>
<rect x="263.46" y="377.66" width="6.40" height="6.40" fill="#7030A0"/>
<rect x="284.66" y="381.80" width="6.40" height="6.40" fill="#7030A0"/>
<rect x="305.87" y="380.77" width="6.40" height="6.40" fill="#7030A0"/>
<rect x="327.07" y="373.52" width="6.40" height="6.40" fill="#7030A0"/>
<rect x="348.28" y="366.79" width="6.40" height="6.40" fill="#7030A0"/>
<rect x="369.49" y="359.54" width="6.40" height="6.40" fill="#7030A0"/>
<rect x="390.69" y="361.09" width="6.40" height="6.40" fill="#7030A0"/>
<rect x="411.90" y="364.20" width="6.40" height="6.40" fill="#7030A0"/>
<rect x="433.11" y="358.24" width="6.40" height="6.40" fill="#7030A0"/>
<rect x="454.31" y="350.99" width="6.40" height="6.40" fill="#7030A0"/>
<rect x="475.52" y="342.71" width="6.40" height="6.40" fill="#7030A0"/>
<rect x="496.72" y="337.53" width="6.40" height="6.40" fill="#7030A0"/>
<rect x="517.93" y="332.35" width="6.40" height="6.40" fill="#7030A0"/>
<rect x="539.13" y="329.25" width="6.40" height="6.40" fill="#7030A0"/>
<rect x="560.34" y="324.84" width="6.40" height="6.40" fill="#7030A0"/>
<rect x="581.55" y="324.33" width="6.40" height="6.40" fill="#7030A0"/>
<rect x="602.75" y="321.22" width="6.40" height="6.40" fill="#7030A0"/>
<rect x="623.96" y="320.18" width="6.40" height="6.40" fill="#7030A0"/>
<rect x="645.16" y="318.37" width="6.40" height="6.40" fill="#7030A0"/>
<rect x="666.37" y="312.94" width="6.40" height="6.40" fill="#7030A0"/>
<rect x="687.58" y="286.01" width="6.40" height="6.40" fill="#7030A0"/>
<rect x="708.78" y="285.23" width="6.40" height="6.40" fill="#7030A0"/>
<rect x="729.99" y="271.77" width="6.40" height="6.40" fill="#7030A0"/>
<rect x="751.19" y="269.44" width="6.40" height="6.40" fill="#7030A0"/>
<rect x="772.40" y="267.37" width="6.40" height="6.40" fill="#7030A0"/>
<path d="M75.80 359.37 L97.01 365.58 L118.22 363.25 L139.42 358.34 L160.63 365.84 L181.83 368.43 L203.04 358.34 L224.25 346.43 L245.45 341.77 L266.66 345.13 L287.86 343.32 L309.07 333.22 L330.27 331.67 L351.48 335.81 L372.69 337.36 L393.89 336.59 L415.10 339.18 L436.31 323.38 L457.51 301.64 L478.72 300.86 L499.92 321.83 L521.13 312.77 L542.34 287.91 L563.54 282.22 L584.75 292.06 L605.95 306.04 L627.16 316.91 L648.37 315.88 L669.57 320.02 L690.78 293.35 L711.98 296.72 L733.19 300.08 L754.39 300.08 L775.60 293.35" fill="none" stroke="#C00000" stroke-width="1.3" stroke-opacity="0.8" stroke-linejoin="round"/>
<path d="M75.80 354.42 L80.30 363.42 L71.30 363.42 Z" fill="#C00000"/>
<path d="M97.01 360.63 L101.51 369.63 L92.51 369.63 Z" fill="#C00000"/>
<path d="M118.22 358.30 L122.72 367.30 L113.72 367.30 Z" fill="#C00000"/>
<path d="M139.42 353.39 L143.92 362.39 L134.92 362.39 Z" fill="#C00000"/>
<path d="M160.63 360.89 L165.13 369.89 L156.13 369.89 Z" fill="#C00000"/>
<path d="M181.83 363.48 L186.33 372.48 L177.33 372.48 Z" fill="#C00000"/>
<path d="M203.04 353.39 L207.54 362.39 L198.54 362.39 Z" fill="#C00000"/>
<path d="M224.25 341.48 L228.75 350.48 L219.75 350.48 Z" fill="#C00000"/>
<path d="M245.45 336.82 L249.95 345.82 L240.95 345.82 Z" fill="#C00000"/>
<path d="M266.66 340.18 L271.16 349.18 L262.16 349.18 Z" fill="#C00000"/>
<path d="M287.86 338.37 L292.36 347.37 L283.36 347.37 Z" fill="#C00000"/>
<path d="M309.07 328.27 L313.57 337.27 L304.57 337.27 Z" fill="#C00000"/>
<path d="M330.27 326.72 L334.77 335.72 L325.77 335.72 Z" fill="#C00000"/>
<path d="M351.48 330.86 L355.98 339.86 L346.98 339.86 Z" fill="#C00000"/>
<path d="M372.69 332.41 L377.19 341.41 L368.19 341.41 Z" fill="#C00000"/>
<path d="M393.89 331.64 L398.39 340.64 L389.39 340.64 Z" fill="#C00000"/>
<path d="M415.10 334.23 L419.60 343.23 L410.60 343.23 Z" fill="#C00000"/>
<path d="M436.31 318.43 L440.81 327.43 L431.81 327.43 Z" fill="#C00000"/>
<path d="M457.51 296.69 L462.01 305.69 L453.01 305.69 Z" fill="#C00000"/>
<path d="M478.72 295.91 L483.22 304.91 L474.22 304.91 Z" fill="#C00000"/>
<path d="M499.92 316.88 L504.42 325.88 L495.42 325.88 Z" fill="#C00000"/>
<path d="M521.13 307.82 L525.63 316.82 L516.63 316.82 Z" fill="#C00000"/>
<path d="M542.34 282.96 L546.84 291.96 L537.84 291.96 Z" fill="#C00000"/>
<path d="M563.54 277.27 L568.04 286.27 L559.04 286.27 Z" fill="#C00000"/>
<path d="M584.75 287.11 L589.25 296.11 L580.25 296.11 Z" fill="#C00000"/>
<path d="M605.95 301.09 L610.45 310.09 L601.45 310.09 Z" fill="#C00000"/>
<path d="M627.16 311.96 L631.66 320.96 L622.66 320.96 Z" fill="#C00000"/>
<path d="M648.37 310.93 L652.87 319.93 L643.87 319.93 Z" fill="#C00000"/>
<path d="M669.57 315.07 L674.07 324.07 L665.07 324.07 Z" fill="#C00000"/>
<path d="M690.78 288.40 L695.28 297.40 L686.28 297.40 Z" fill="#C00000"/>
<path d="M711.98 291.77 L716.48 300.77 L707.48 300.77 Z" fill="#C00000"/>
<path d="M733.19 295.13 L737.69 304.13 L728.69 304.13 Z" fill="#C00000"/>
<path d="M754.39 295.13 L758.89 304.13 L749.89 304.13 Z" fill="#C00000"/>
<path d="M775.60 288.40 L780.10 297.40 L771.10 297.40 Z" fill="#C00000"/>
<path d="M75.80 376.72 L97.01 378.53 L118.22 372.83 L139.42 372.58 L160.63 372.58 L181.83 369.99 L203.04 364.29 L224.25 368.43 L245.45 370.76 L266.66 369.99 L287.86 360.92 L309.07 352.38 L330.27 349.79 L351.48 349.27 L372.69 349.27 L393.89 349.27 L415.10 344.10 L436.31 342.80 L457.51 339.18 L478.72 335.81 L499.92 330.37 L521.13 324.42 L542.34 320.28 L563.54 320.54 L584.75 315.10 L605.95 317.95 L627.16 317.43 L648.37 315.88 L669.57 309.92 L690.78 302.41 L711.98 305.00 L733.19 298.27 L754.39 294.91" fill="none" stroke="#FF0000" stroke-width="1.3" stroke-opacity="0.8" stroke-linejoin="round"/>
<path d="M75.80 371.77 L80.30 380.77 L71.30 380.77 Z" fill="#FF0000"/>
<path d="M97.01 373.58 L101.51 382.58 L92.51 382.58 Z" fill="#FF0000"/>
<path d="M118.22 367.88 L122.72 376.88 L113.72 376.88 Z" fill="#FF0000"/>
<path d="M139.42 367.63 L143.92 376.63 L134.92 376.63 Z" fill="#FF0000"/>
<path d="M160.63 367.63 L165.13 376.63 L156.13 376.63 Z" fill="#FF0000"/>
<path d="M181.83 365.04 L186.33 374.04 L177.33 374.04 Z" fill="#FF0000"/>
<path d="M203.04 359.34 L207.54 368.34 L198.54 368.34 Z" fill="#FF0000"/>
<path d="M224.25 363.48 L228.75 372.48 L219.75 372.48 Z" fill="#FF0000"/>
<path d="M245.45 365.81 L249.95 374.81 L240.95 374.81 Z" fill="#FF0000"/>
<path d="M266.66 365.04 L271.16 374.04 L262.16 374.04 Z" fill="#FF0000"/>
<path d="M287.86 355.97 L292.36 364.97 L283.36 364.97 Z" fill="#FF0000"/>
<path d="M309.07 347.43 L313.57 356.43 L304.57 356.43 Z" fill="#FF0000"/>
<path d="M330.27 344.84 L334.77 353.84 L325.77 353.84 Z" fill="#FF0000"/>
<path d="M351.48 344.32 L355.98 353.32 L346.98 353.32 Z" fill="#FF0000"/>
<path d="M372.69 344.32 L377.19 353.32 L368.19 353.32 Z" fill="#FF0000"/>
<path d="M393.89 344.32 L398.39 353.32 L389.39 353.32 Z" fill="#FF0000"/>
<path d="M415.10 339.15 L419.60 348.15 L410.60 348.15 Z" fill="#FF0000"/>
<path d="M436.31 337.85 L440.81 346.85 L431.81 346.85 Z" fill="#FF0000"/>
<path d="M457.51 334.23 L462.01 343.23 L453.01 343.23 Z" fill="#FF0000"/>
<path d="M478.72 330.86 L483.22 339.86 L474.22 339.86 Z" fill="#FF0000"/>
<path d="M499.92 325.42 L504.42 334.42 L495.42 334.42 Z" fill="#FF0000"/>
<path d="M521.13 319.47 L525.63 328.47 L516.63 328.47 Z" fill="#FF0000"/>
<path d="M542.34 315.33 L546.84 324.33 L537.84 324.33 Z" fill="#FF0000"/>
<path d="M563.54 315.59 L568.04 324.59 L559.04 324.59 Z" fill="#FF0000"/>
<path d="M584.75 310.15 L589.25 319.15 L580.25 319.15 Z" fill="#FF0000"/>
<path d="M605.95 313.00 L610.45 322.00 L601.45 322.00 Z" fill="#FF0000"/>
<path d="M627.16 312.48 L631.66 321.48 L622.66 321.48 Z" fill="#FF0000"/>
<path d="M648.37 310.93 L652.87 319.93 L643.87 319.93 Z" fill="#FF0000"/>
<path d="M669.57 304.97 L674.07 313.97 L665.07 313.97 Z" fill="#FF0000"/>
<path d="M690.78 297.46 L695.28 306.46 L686.28 306.46 Z" fill="#FF0000"/>
<path d="M711.98 300.05 L716.48 309.05 L707.48 309.05 Z" fill="#FF0000"/>
<path d="M733.19 293.32 L737.69 302.32 L728.69 302.32 Z" fill="#FF0000"/>
<path d="M754.39 289.96 L758.89 298.96 L749.89 298.96 Z" fill="#FF0000"/>
<path d="M75.80 397.69 L97.01 392.25 L118.22 395.10 L139.42 390.96 L160.63 392.51 L181.83 395.10 L203.04 395.10 L224.25 394.32 L245.45 396.65 L266.66 397.43 L287.86 395.10 L309.07 385.00 L330.27 374.13 L351.48 374.13 L372.69 370.50 L393.89 371.28 L415.10 371.54 L436.31 375.42 L457.51 373.09 L478.72 363.77 L499.92 363.00 L521.13 352.64 L542.34 346.69 L563.54 341.77 L584.75 337.36 L605.95 330.89 L627.16 328.04 L648.37 325.97 L669.57 315.88 L690.78 294.91 L711.98 302.41 L733.19 306.56 L754.39 308.11 L775.60 308.11" fill="none" stroke="#FFC000" stroke-width="1.3" stroke-opacity="0.8" stroke-linejoin="round"/>
<path d="M75.80 392.74 L80.30 401.74 L71.30 401.74 Z" fill="#FFC000"/>
<path d="M97.01 387.30 L101.51 396.30 L92.51 396.30 Z" fill="#FFC000"/>
<path d="M118.22 390.15 L122.72 399.15 L113.72 399.15 Z" fill="#FFC000"/>
<path d="M139.42 386.01 L143.92 395.01 L134.92 395.01 Z" fill="#FFC000"/>
<path d="M160.63 387.56 L165.13 396.56 L156.13 396.56 Z" fill="#FFC000"/>
<path d="M181.83 390.15 L186.33 399.15 L177.33 399.15 Z" fill="#FFC000"/>
<path d="M203.04 390.15 L207.54 399.15 L198.54 399.15 Z" fill="#FFC000"/>
<path d="M224.25 389.37 L228.75 398.37 L219.75 398.37 Z" fill="#FFC000"/>
<path d="M245.45 391.70 L249.95 400.70 L240.95 400.70 Z" fill="#FFC000"/>
<path d="M266.66 392.48 L271.16 401.48 L262.16 401.48 Z" fill="#FFC000"/>
<path d="M287.86 390.15 L292.36 399.15 L283.36 399.15 Z" fill="#FFC000"/>
<path d="M309.07 380.05 L313.57 389.05 L304.57 389.05 Z" fill="#FFC000"/>
<path d="M330.27 369.18 L334.77 378.18 L325.77 378.18 Z" fill="#FFC000"/>
<path d="M351.48 369.18 L355.98 378.18 L346.98 378.18 Z" fill="#FFC000"/>
<path d="M372.69 365.55 L377.19 374.55 L368.19 374.55 Z" fill="#FFC000"/>
<path d="M393.89 366.33 L398.39 375.33 L389.39 375.33 Z" fill="#FFC000"/>
<path d="M415.10 366.59 L419.60 375.59 L410.60 375.59 Z" fill="#FFC000"/>
<path d="M436.31 370.47 L440.81 379.47 L431.81 379.47 Z" fill="#FFC000"/>
<path d="M457.51 368.14 L462.01 377.14 L453.01 377.14 Z" fill="#FFC000"/>
<path d="M478.72 358.82 L483.22 367.82 L474.22 367.82 Z" fill="#FFC000"/>
<path d="M499.92 358.05 L504.42 367.05 L495.42 367.05 Z" fill="#FFC000"/>
<path d="M521.13 347.69 L525.63 356.69 L516.63 356.69 Z" fill="#FFC000"/>
<path d="M542.34 341.74 L546.84 350.74 L537.84 350.74 Z" fill="#FFC000"/>
<path d="M563.54 336.82 L568.04 345.82 L559.04 345.82 Z" fill="#FFC000"/>
<path d="M584.75 332.41 L589.25 341.41 L580.25 341.41 Z" fill="#FFC000"/>
<path d="M605.95 325.94 L610.45 334.94 L601.45 334.94 Z" fill="#FFC000"/>
<path d="M627.16 323.09 L631.66 332.09 L622.66 332.09 Z" fill="#FFC000"/>
<path d="M648.37 321.02 L652.87 330.02 L643.87 330.02 Z" fill="#FFC000"/>
<path d="M669.57 310.93 L674.07 319.93 L665.07 319.93 Z" fill="#FFC000"/>
<path d="M690.78 289.96 L695.28 298.96 L686.28 298.96 Z" fill="#FFC000"/>
<path d="M711.98 297.46 L716.48 306.46 L707.48 306.46 Z" fill="#FFC000"/>
<path d="M733.19 301.61 L737.69 310.61 L728.69 310.61 Z" fill="#FFC000"/>
<path d="M754.39 303.16 L758.89 312.16 L749.89 312.16 Z" fill="#FFC000"/>
<path d="M775.60 303.16 L780.10 312.16 L771.10 312.16 Z" fill="#FFC000"/>
<line x1="821" y1="62.40" x2="849" y2="62.40" stroke="#000000" stroke-width="2.0"/>
<rect x="831.04" y="58.44" width="7.92" height="7.92" fill="#000000"/>
<text x="851.3" y="68.50" font-size="22.5" font-weight="normal" stroke="#000" stroke-width="1.1" fill="#000" textLength="95.5" lengthAdjust="spacingAndGlyphs">US (17.1%)</text>
<line x1="821" y1="99.20" x2="849" y2="99.20" stroke="#C00000" stroke-width="1.2"/>
<rect x="831.17" y="95.37" width="7.65" height="7.65" fill="#C00000"/>
<text x="851.3" y="105.30" font-size="22.5" font-weight="normal" stroke="#000" stroke-width="1.1" fill="#000" textLength="94.5" lengthAdjust="spacingAndGlyphs">FR (11.6%)</text>
<line x1="821" y1="136.00" x2="849" y2="136.00" stroke="#FF0000" stroke-width="1.2"/>
<rect x="832.12" y="133.12" width="5.76" height="5.76" fill="#FF0000"/>
<text x="851.3" y="142.10" font-size="22.5" font-weight="normal" stroke="#000" stroke-width="1.1" fill="#000" textLength="115.5" lengthAdjust="spacingAndGlyphs">SWE (11.5%)</text>
<line x1="821" y1="172.80" x2="849" y2="172.80" stroke="#FFC000" stroke-width="1.2"/>
<rect x="831.09" y="168.88" width="7.83" height="7.83" fill="#FFC000"/>
<text x="851.3" y="178.90" font-size="22.5" font-weight="normal" stroke="#000" stroke-width="1.1" fill="#000" textLength="109.5" lengthAdjust="spacingAndGlyphs">GER (11.2%)</text>
<line x1="821" y1="209.60" x2="849" y2="209.60" stroke="#92D050" stroke-width="1.2"/>
<rect x="831.17" y="205.78" width="7.65" height="7.65" fill="#92D050"/>
<text x="851.3" y="215.70" font-size="22.5" font-weight="normal" stroke="#000" stroke-width="1.1" fill="#000" textLength="121.5" lengthAdjust="spacingAndGlyphs">NETH (11.1%)</text>
<line x1="821" y1="246.40" x2="849" y2="246.40" stroke="#00B050" stroke-width="1.2"/>
<rect x="831.17" y="242.58" width="7.65" height="7.65" fill="#00B050"/>
<text x="851.3" y="252.50" font-size="22.5" font-weight="normal" stroke="#000" stroke-width="1.1" fill="#000" textLength="117.5" lengthAdjust="spacingAndGlyphs">SWIZ (11.1%)</text>
<line x1="821" y1="283.20" x2="849" y2="283.20" stroke="#00B0F0" stroke-width="1.2"/>
<rect x="831.17" y="279.38" width="7.65" height="7.65" fill="#00B0F0"/>
<text x="851.3" y="289.30" font-size="22.5" font-weight="normal" stroke="#000" stroke-width="1.1" fill="#000" textLength="109.5" lengthAdjust="spacingAndGlyphs">DEN (11.1%)</text>
<line x1="821" y1="320.00" x2="849" y2="320.00" stroke="#0070C0" stroke-width="1.2"/>
<rect x="831.17" y="316.17" width="7.65" height="7.65" fill="#0070C0"/>
<text x="851.3" y="326.10" font-size="22.5" font-weight="normal" stroke="#000" stroke-width="1.1" fill="#000" textLength="100.5" lengthAdjust="spacingAndGlyphs">NZ (11.0%)</text>
<line x1="821" y1="356.80" x2="849" y2="356.80" stroke="#002060" stroke-width="1.2"/>
<rect x="831.17" y="352.97" width="7.65" height="7.65" fill="#002060"/>
<text x="851.3" y="362.90" font-size="22.5" font-weight="normal" stroke="#000" stroke-width="1.1" fill="#000" textLength="119.0" lengthAdjust="spacingAndGlyphs">CAN (10.7%)</text>
<line x1="821" y1="393.60" x2="849" y2="393.60" stroke="#7030A0" stroke-width="1.2"/>
<rect x="832.12" y="390.72" width="5.76" height="5.76" fill="#7030A0"/>
<text x="851.3" y="399.70" font-size="22.5" font-weight="normal" stroke="#000" stroke-width="1.1" fill="#000" textLength="109.5" lengthAdjust="spacingAndGlyphs">JAP (10.2%)</text>
<line x1="821" y1="430.40" x2="849" y2="430.40" stroke="#C00000" stroke-width="1.2"/>
<path d="M835.00 425.94 L839.05 434.04 L830.95 434.04 Z" fill="#C00000"/>
<text x="851.3" y="436.50" font-size="22.5" font-weight="normal" stroke="#000" stroke-width="1.1" fill="#000" textLength="111.5" lengthAdjust="spacingAndGlyphs">NOR (9.4%)</text>
<line x1="821" y1="467.20" x2="849" y2="467.20" stroke="#FF0000" stroke-width="1.2"/>
<path d="M835.00 462.74 L839.05 470.84 L830.95 470.84 Z" fill="#FF0000"/>
<text x="851.3" y="473.30" font-size="22.5" font-weight="normal" stroke="#000" stroke-width="1.1" fill="#000" textLength="107.5" lengthAdjust="spacingAndGlyphs">AUS (9.4%)</text>
<line x1="821" y1="504.00" x2="849" y2="504.00" stroke="#FFC000" stroke-width="1.2"/>
<path d="M835.00 499.54 L839.05 507.64 L830.95 507.64 Z" fill="#FFC000"/>
<text x="851.3" y="510.10" font-size="22.5" font-weight="normal" stroke="#000" stroke-width="1.1" fill="#000" textLength="98.5" lengthAdjust="spacingAndGlyphs">UK (8.8%)</text>
<text x="960.5" y="470.80" font-size="18" font-weight="bold" fill="#000">*</text>
<text x="17.3" y="600.9" font-size="16" fill="#262626" textLength="49" lengthAdjust="spacingAndGlyphs">* 2012.</text>
<text x="17.3" y="622.9" font-size="16.5" fill="#262626" textLength="899.2" lengthAdjust="spacingAndGlyphs">Notes: GDP refers to gross domestic product. Dutch and Swiss data are for current spending only, and exclude spending on capital</text>
<text x="17.3" y="642.5" font-size="16.5" fill="#262626" textLength="240.8" lengthAdjust="spacingAndGlyphs">formation of health care providers.</text>
<text x="17.3" y="662.9" font-size="16.5" fill="#262626" textLength="231" lengthAdjust="spacingAndGlyphs">Source: OECD Health Data 2015.</text>
</svg></body></html>
